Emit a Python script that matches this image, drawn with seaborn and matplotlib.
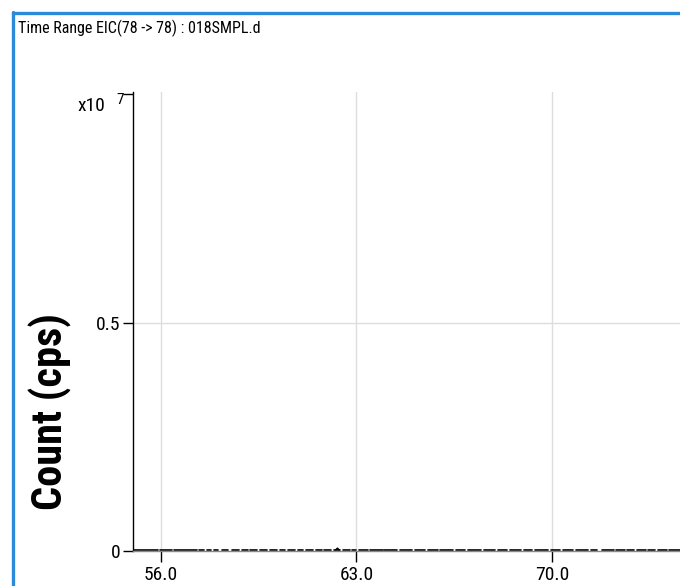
import numpy as np
import pandas as pd
import seaborn as sns
import matplotlib.pyplot as plt
from matplotlib.lines import Line2D

# EIC trace: short dashes of near-zero signal (times in min, counts in cps)
seg_start = [55.05, 55.95, 56.45, 57.35, 57.65, 57.9, 58.2, 58.55, 58.9, 59.2, 59.55,
             59.9, 60.25, 60.55, 60.9, 61.2, 61.55, 61.85, 62.2, 62.5, 62.85,
             63.1, 63.5, 64.0, 64.55, 65.1, 65.55, 66.0, 66.55, 67.0, 67.55,
             68.05, 68.5, 69.0, 69.4, 69.95, 70.4, 70.85, 71.4, 71.8, 72.3,
             72.7, 73.05, 73.45, 73.8, 74.2]
seg_end = [55.9, 56.4, 57.3, 57.55, 57.8, 58.05, 58.4, 58.8, 59.1, 59.45, 59.8,
           60.15, 60.45, 60.8, 61.1, 61.45, 61.75, 62.1, 62.4, 62.75, 63.0,
           63.4, 63.95, 64.45, 65.0, 65.45, 65.9, 66.45, 66.9, 67.45, 67.95,
           68.4, 68.9, 69.3, 69.85, 70.3, 70.75, 71.3, 71.6, 72.2, 72.6,
           72.95, 73.35, 73.7, 74.1, 74.6]
seg_level = [18000, 15000, 17000, 16000, 15000, 16000, 15000, 14000, 15000, 16000, 15000,
             14000, 16000, 15000, 17000, 15000, 16000, 18000, 22000, 16000, 15000,
             17000, 19000, 18000, 17000, 19000, 18000, 17000, 18000, 19000, 17000,
             16000, 18000, 17000, 16000, 18000, 17000, 16000, 19000, 15000, 17000,
             16000, 15000, 17000, 16000, 17000]
spike_time = [62.25, 62.32, 62.38]
spike_count = [18000, 60000, 18000]

x_ticks = [56.0, 63.0, 70.0]
y_ticks = [0, 0.5e7, 1.0e7]
y_tick_labels = ["0", "0.5", ""]

rows = []
for i, (a, b, v) in enumerate(zip(seg_start, seg_end, seg_level)):
    rows.append([i, a, v])
    rows.append([i, b, v])
for t, c in zip(spike_time, spike_count):
    rows.append([len(seg_start), t, c])
df = pd.DataFrame(rows, columns=["seg", "time", "count"])

sns.set_style("white")
plt.rcParams["font.family"] = ["Roboto Condensed", "DejaVu Sans"]
plt.rcParams["text.color"] = "black"
plt.rcParams["xtick.color"] = "black"
plt.rcParams["ytick.color"] = "black"
plt.rcParams["xtick.labelcolor"] = "black"
plt.rcParams["ytick.labelcolor"] = "black"

fig = plt.figure(figsize=(6.8, 5.86), dpi=100)
ax = fig.add_axes([133 / 680, 1 - 551 / 586, 1 - 133 / 680, (551 - 92) / 586])

sns.lineplot(data=df, x="time", y="count", units="seg", estimator=None,
             color="black", linewidth=1.2, ax=ax, legend=False)

ax.set_xlim(55.0, 74.58)
ax.set_ylim(0, 1.005e7)
ax.set_xticks(x_ticks)
ax.set_xticklabels([f"{t:.1f}" for t in x_ticks])
ax.set_yticks(y_ticks)
ax.set_yticklabels(y_tick_labels)
ax.grid(True, axis="x", color="#dddddd", linewidth=1)
ax.axhline(0.5e7, color="#dddddd", linewidth=1, zorder=0)
ax.set_xlabel("")
ax.set_ylabel("")
for s in ["top", "right"]:
    ax.spines[s].set_visible(False)
ax.spines["left"].set_color("black")
ax.spines["left"].set_linewidth(1)
ax.spines["bottom"].set_color("#888888")
ax.spines["bottom"].set_linewidth(1)
ax.tick_params(axis="x", direction="out", length=8, width=1,
               labelsize=14, pad=3, bottom=True)
ax.tick_params(axis="y", direction="out", length=7, width=1,
               labelsize=14, pad=2, left=True)

fig.text(78 / 680, 1 - 106 / 586, "x10", fontsize=14, ha="left", va="center")
fig.text(116 / 680, 1 - 100 / 586, "7", fontsize=11, ha="left", va="center")

fig.text(50 / 680, 1 - 412 / 586, "Count (cps)", rotation=90, ha="center",
         va="center", fontsize=30.5, fontweight="bold")

fig.text(18 / 680, 1 - 28 / 586, "Time Range EIC(78 -> 78) : 018SMPL.d",
         fontsize=11.5, ha="left", va="center")

# blue panel frame
fig.add_artist(Line2D([12.5 / 680, 1.0], [1 - 13 / 586, 1 - 13 / 586],
                      transform=fig.transFigure, color="#2b8ad9", linewidth=2.4))
fig.add_artist(Line2D([13 / 680, 13 / 680], [0, 1 - 12 / 586],
                      transform=fig.transFigure, color="#2b8ad9", linewidth=2.4))

fig.savefig("out.png", dpi=100)
